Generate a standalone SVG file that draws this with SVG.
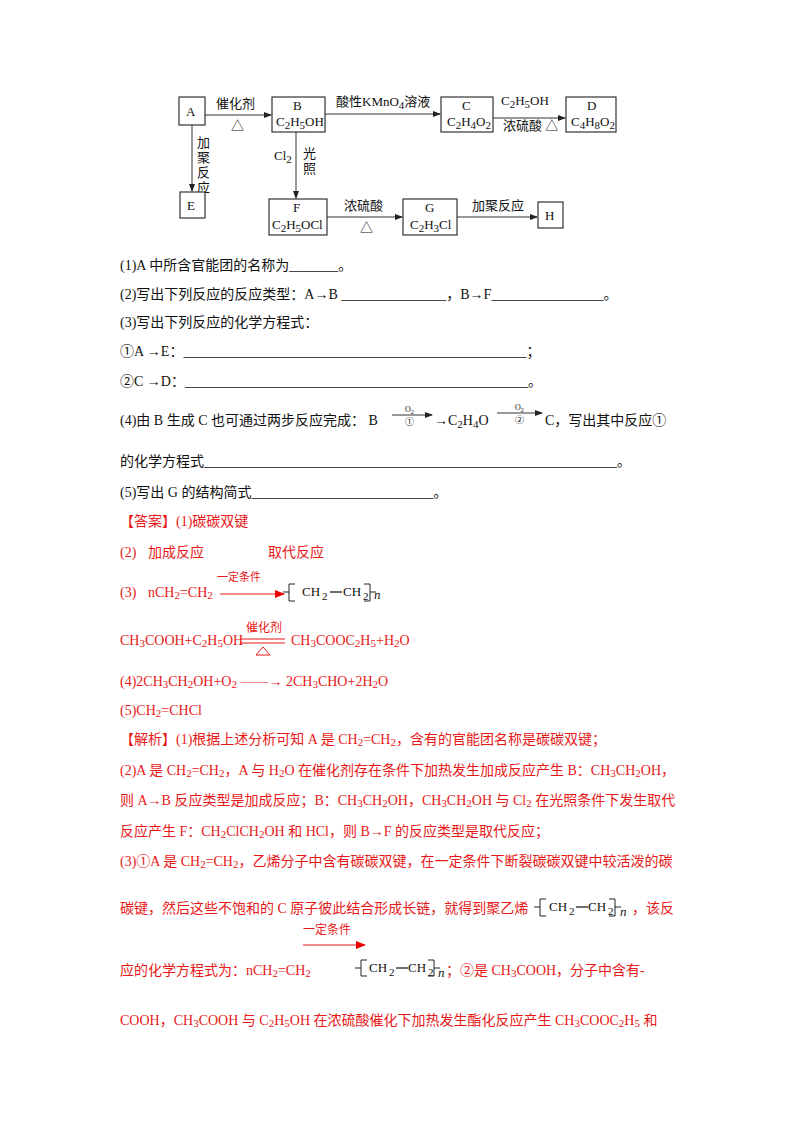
<svg xmlns="http://www.w3.org/2000/svg" width="800" height="1132" viewBox="0 0 800 1132">
<defs>
<marker id="ah" markerWidth="8" markerHeight="6" refX="7" refY="3" orient="auto" markerUnits="userSpaceOnUse"><path d="M0,0 L8,3 L0,6 Z" fill="#222"/></marker>
<marker id="ahr" markerWidth="10" markerHeight="8" refX="9" refY="4" orient="auto" markerUnits="userSpaceOnUse"><path d="M0,0 L10,4 L0,8 Z" fill="#e00"/></marker>
<style>
text{font-family:"Liberation Serif","Noto Sans CJK SC",serif;font-size:14px;fill:#111}
.r{fill:#e81818}
.s{font-size:13px}
.sm{font-size:11px}
.box{fill:#fff;stroke:#333;stroke-width:1.2}
.ln{stroke:#333;stroke-width:1;fill:none;marker-end:url(#ah)}
.rl{stroke:#e81818;stroke-width:1.2;fill:none}
</style>
</defs>
<rect width="800" height="1132" fill="#fff"/>

<g id="connectors">
<line class="ln" x1="205" y1="115" x2="271" y2="115"/>
<line class="ln" x1="325" y1="114" x2="440" y2="114"/>
<line class="ln" x1="493" y1="118" x2="565" y2="118"/>
<line class="ln" x1="192" y1="125" x2="192" y2="191"/>
<line class="ln" x1="296" y1="132" x2="296" y2="198"/>
<line class="ln" x1="327" y1="217" x2="402" y2="217"/>
<line class="ln" x1="457" y1="217" x2="537" y2="217"/>
<text class="s" x="216" y="108">催化剂</text>
<text class="s" x="231" y="130">△</text>
<text class="s" x="336" y="106">酸性KMnO<tspan class="sm" dy="3">4</tspan><tspan dy="-3">溶液</tspan></text>
<text class="s" x="501" y="105">C<tspan class="sm" dy="3">2</tspan><tspan dy="-3">H</tspan><tspan class="sm" dy="3">5</tspan><tspan dy="-3">OH</tspan></text>
<text class="s" x="503" y="130">浓硫酸 △</text>
<text class="s" x="197" y="147">加</text>
<text class="s" x="197" y="162">聚</text>
<text class="s" x="197" y="177">反</text>
<text class="s" x="197" y="192">应</text>
<text class="s" x="274" y="160">Cl<tspan class="sm" dy="3">2</tspan></text>
<text class="s" x="303" y="158">光</text>
<text class="s" x="303" y="173">照</text>
<text class="s" x="344" y="210">浓硫酸</text>
<text class="s" x="360" y="232">△</text>
<text class="s" x="472" y="210">加聚反应</text>
</g>

<g id="A"><rect class="box" x="179" y="97" width="26" height="28"/><text class="s" x="186" y="116">A</text></g>
<g id="B"><rect class="box" x="272" y="97" width="53" height="35"/><text class="s" x="293" y="110">B</text><text class="s" x="276" y="126">C<tspan class="sm" dy="3">2</tspan><tspan dy="-3">H</tspan><tspan class="sm" dy="3">5</tspan><tspan dy="-3">OH</tspan></text></g>
<g id="C"><rect class="box" x="441" y="97" width="52" height="35"/><text class="s" x="462" y="110">C</text><text class="s" x="447" y="126">C<tspan class="sm" dy="3">2</tspan><tspan dy="-3">H</tspan><tspan class="sm" dy="3">4</tspan><tspan dy="-3">O</tspan><tspan class="sm" dy="3">2</tspan></text></g>
<g id="D"><rect class="box" x="566" y="97" width="50" height="35"/><text class="s" x="587" y="110">D</text><text class="s" x="571" y="126">C<tspan class="sm" dy="3">4</tspan><tspan dy="-3">H</tspan><tspan class="sm" dy="3">8</tspan><tspan dy="-3">O</tspan><tspan class="sm" dy="3">2</tspan></text></g>
<g id="E"><rect class="box" x="180" y="192" width="25" height="26"/><text class="s" x="187" y="210">E</text></g>
<g id="F"><rect class="box" x="269" y="199" width="58" height="36"/><text class="s" x="293" y="212">F</text><text class="s" x="272" y="229">C<tspan class="sm" dy="3">2</tspan><tspan dy="-3">H</tspan><tspan class="sm" dy="3">5</tspan><tspan dy="-3">OCl</tspan></text></g>
<g id="G"><rect class="box" x="403" y="199" width="54" height="36"/><text class="s" x="425" y="212">G</text><text class="s" x="410" y="229">C<tspan class="sm" dy="3">2</tspan><tspan dy="-3">H</tspan><tspan class="sm" dy="3">3</tspan><tspan dy="-3">Cl</tspan></text></g>
<g id="H"><rect class="box" x="538" y="202" width="25" height="26"/><text class="s" x="545" y="220">H</text></g>

<text x="120" y="270">(1)A 中所含官能团的名称为_______。</text>
<text x="120" y="299">(2)写出下列反应的反应类型：A→B _______________，B→F________________。</text>
<text x="120" y="327">(3)写出下列反应的化学方程式：</text>
<text x="120" y="356">①A →E：_________________________________________________；</text>
<text x="120" y="386">②C →D：_________________________________________________。</text>
<text x="120" y="425">(4)由 B 生成 C 也可通过两步反应完成： B</text>
<line x1="392" y1="415" x2="432" y2="415" stroke="#333" marker-end="url(#ah)"/>
<text x="405" y="412" style="font-size:8px">O<tspan dy="2" style="font-size:6px">2</tspan></text>
<text x="405" y="425" style="font-size:9px">①</text>
<text x="434" y="425">→C<tspan class="sm" dy="3">2</tspan><tspan dy="-3">H</tspan><tspan class="sm" dy="3">4</tspan><tspan dy="-3">O</tspan></text>
<line x1="497" y1="413" x2="542" y2="413" stroke="#333" marker-end="url(#ah)"/>
<text x="515" y="410" style="font-size:8px">O<tspan dy="2" style="font-size:6px">2</tspan></text>
<text x="515" y="423" style="font-size:9px">②</text>
<text x="545" y="425">C，写出其中反应①</text>
<text x="120" y="466">的化学方程式___________________________________________________________。</text>
<text x="120" y="497">(5)写出 G 的结构简式__________________________。</text>

<text class="r" x="120" y="526">【答案】(1)碳碳双键</text>
<text class="r" x="120" y="557">(2)</text>
<text class="r" x="148" y="557">加成反应</text>
<text class="r" x="268" y="557">取代反应</text>
<text class="r" x="120" y="597">(3)</text>
<text class="r" x="148" y="597">nCH<tspan class="sm" dy="2">2</tspan><tspan dy="-2">=CH</tspan><tspan class="sm" dy="2">2</tspan></text>
<text class="r" x="217" y="581" style="font-size:11px">一定条件</text>
<line class="rl" x1="220" y1="594" x2="284" y2="594" marker-end="url(#ahr)"/>
<g id="poly1">
<path d="M289,584 V601 M289,592 H283 M289,584 H295 M289,601 H295" stroke="#222" fill="none"/>
<text class="s" x="302" y="596">CH</text><text class="sm" x="322" y="600">2</text>
<line x1="330" y1="592" x2="342" y2="592" stroke="#222" stroke-width="1.3"/>
<text class="s" x="343" y="596">CH</text><text class="sm" x="363" y="600">2</text>
<path d="M370,584 V601 M370,592 H376 M370,584 H364 M370,601 H364" stroke="#222" fill="none"/>
<text class="s" x="374" y="599" font-style="italic">n</text>
</g>
<text class="r" x="120" y="645">CH<tspan class="sm" dy="2">3</tspan><tspan dy="-2">COOH+C</tspan><tspan class="sm" dy="2">2</tspan><tspan dy="-2">H</tspan><tspan class="sm" dy="2">5</tspan><tspan dy="-2">OH</tspan></text>
<text class="r" x="246" y="632" style="font-size:12px">催化剂</text>
<line class="rl" x1="240" y1="639" x2="285" y2="639" stroke-width="0.8"/>
<line class="rl" x1="240" y1="643" x2="285" y2="643" stroke-width="0.8"/>
<path d="M256,655 L263,647 L270,655 Z" fill="none" stroke="#e81818"/>
<text class="r" x="291" y="645">CH<tspan class="sm" dy="2">3</tspan><tspan dy="-2">COOC</tspan><tspan class="sm" dy="2">2</tspan><tspan dy="-2">H</tspan><tspan class="sm" dy="2">5</tspan><tspan dy="-2">+H</tspan><tspan class="sm" dy="2">2</tspan><tspan dy="-2">O</tspan></text>
<text class="r" x="120" y="686">(4)2CH<tspan class="sm" dy="2">3</tspan><tspan dy="-2">CH</tspan><tspan class="sm" dy="2">2</tspan><tspan dy="-2">OH+O</tspan><tspan class="sm" dy="2">2</tspan><tspan dy="-2"> ——→ 2CH</tspan><tspan class="sm" dy="2">3</tspan><tspan dy="-2">CHO+2H</tspan><tspan class="sm" dy="2">2</tspan><tspan dy="-2">O</tspan></text>
<text class="r" x="120" y="715">(5)CH<tspan class="sm" dy="2">2</tspan><tspan dy="-2">=CHCl</tspan></text>
<text class="r" x="120" y="744">【解析】(1)根据上述分析可知 A 是 CH<tspan class="sm" dy="2">2</tspan><tspan dy="-2">=CH</tspan><tspan class="sm" dy="2">2</tspan><tspan dy="-2">，含有的官能团名称是碳碳双键；</tspan></text>
<text class="r" x="120" y="775">(2)A 是 CH<tspan class="sm" dy="2">2</tspan><tspan dy="-2">=CH</tspan><tspan class="sm" dy="2">2</tspan><tspan dy="-2">，A 与 H</tspan><tspan class="sm" dy="2">2</tspan><tspan dy="-2">O 在催化剂存在条件下加热发生加成反应产生 B：CH</tspan><tspan class="sm" dy="2">3</tspan><tspan dy="-2">CH</tspan><tspan class="sm" dy="2">2</tspan><tspan dy="-2">OH，</tspan></text>
<text class="r" x="120" y="805">则 A→B 反应类型是加成反应；B：CH<tspan class="sm" dy="2">3</tspan><tspan dy="-2">CH</tspan><tspan class="sm" dy="2">2</tspan><tspan dy="-2">OH，CH</tspan><tspan class="sm" dy="2">3</tspan><tspan dy="-2">CH</tspan><tspan class="sm" dy="2">2</tspan><tspan dy="-2">OH 与 Cl</tspan><tspan class="sm" dy="2">2</tspan><tspan dy="-2"> 在光照条件下发生取代</tspan></text>
<text class="r" x="120" y="836">反应产生 F：CH<tspan class="sm" dy="2">2</tspan><tspan dy="-2">ClCH</tspan><tspan class="sm" dy="2">2</tspan><tspan dy="-2">OH 和 HCl，则 B→F 的反应类型是取代反应；</tspan></text>
<text class="r" x="120" y="866">(3)①A 是 CH<tspan class="sm" dy="2">2</tspan><tspan dy="-2">=CH</tspan><tspan class="sm" dy="2">2</tspan><tspan dy="-2">，乙烯分子中含有碳碳双键，在一定条件下断裂碳碳双键中较活泼的碳</tspan></text>
<text class="r" x="120" y="913">碳键，然后这些不饱和的 C 原子彼此结合形成长链，就得到聚乙烯</text>
<g id="poly2">
<path d="M540,899 V916 M540,907 H534 M540,899 H546 M540,916 H546" stroke="#222" fill="none"/>
<text class="s" x="549" y="911">CH</text><text class="sm" x="569" y="915">2</text>
<line x1="576" y1="907" x2="588" y2="907" stroke="#222" stroke-width="1.3"/>
<text class="s" x="588" y="911">CH</text><text class="sm" x="608" y="915">2</text>
<path d="M615,899 V916 M615,907 H621 M615,899 H609 M615,916 H609" stroke="#222" fill="none"/>
<text class="s" x="620" y="916" font-style="italic">n</text>
</g>
<text class="r" x="632" y="913">，该反</text>
<text class="r" x="303" y="934" style="font-size:12px">一定条件</text>
<line class="rl" x1="303" y1="945" x2="365" y2="945" marker-end="url(#ahr)"/>
<text class="r" x="120" y="975">应的化学方程式为：nCH<tspan class="sm" dy="2">2</tspan><tspan dy="-2">=CH</tspan><tspan class="sm" dy="2">2</tspan></text>
<g id="poly3">
<path d="M361,960 V976 M361,968 H355 M361,960 H367 M361,976 H367" stroke="#222" fill="none"/>
<text class="s" x="369" y="972">CH</text><text class="sm" x="389" y="976">2</text>
<line x1="396" y1="968" x2="408" y2="968" stroke="#222" stroke-width="1.3"/>
<text class="s" x="408" y="972">CH</text><text class="sm" x="428" y="976">2</text>
<path d="M434,960 V976 M434,968 H440 M434,960 H428 M434,976 H428" stroke="#222" fill="none"/>
<text class="s" x="438" y="977" font-style="italic">n</text>
</g>
<text class="r" x="446" y="975">；②是 CH<tspan class="sm" dy="2">3</tspan><tspan dy="-2">COOH，分子中含有-</tspan></text>
<text class="r" x="120" y="1025">COOH，CH<tspan class="sm" dy="2">3</tspan><tspan dy="-2">COOH 与 C</tspan><tspan class="sm" dy="2">2</tspan><tspan dy="-2">H</tspan><tspan class="sm" dy="2">5</tspan><tspan dy="-2">OH 在浓硫酸催化下加热发生酯化反应产生 CH</tspan><tspan class="sm" dy="2">3</tspan><tspan dy="-2">COOC</tspan><tspan class="sm" dy="2">2</tspan><tspan dy="-2">H</tspan><tspan class="sm" dy="2">5</tspan><tspan dy="-2"> 和</tspan></text>
</svg>
